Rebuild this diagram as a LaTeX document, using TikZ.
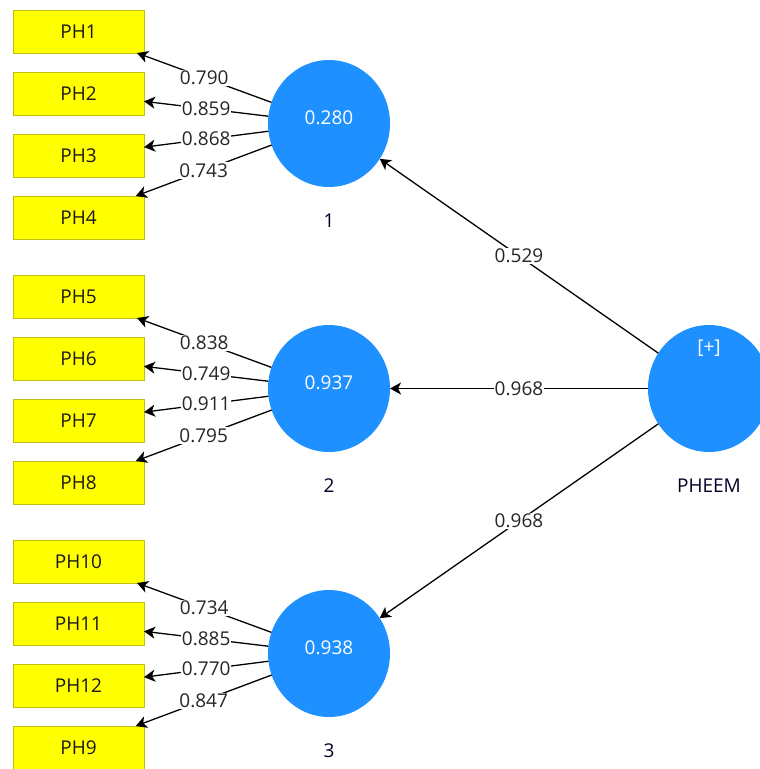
\documentclass[tikz,border=0pt]{standalone}
\usepackage{fontspec}
\setmainfont{Open Sans}
\usetikzlibrary{arrows.meta,positioning,shapes.geometric}

\definecolor{latentblue}{RGB}{30,144,255}
\definecolor{itemyellow}{RGB}{255,255,0}
\definecolor{itemborder}{RGB}{190,190,20}

\begin{document}
\begin{tikzpicture}[x=1pt,y=-1pt,->,>={Stealth[length=11pt,width=12pt,inset=3pt]},
      line width=1.3pt,node distance=19pt,
      font=\fontsize{19}{22}\selectfont]
    \tikzstyle{item}=[rectangle,fill=itemyellow,draw=itemborder,line width=0.8pt,
      minimum width=131pt,minimum height=43pt,inner sep=0pt,outer sep=0pt,text=black!90]
    \tikzstyle{latent}=[ellipse,fill=latentblue,draw=none,minimum width=122pt,
      minimum height=127pt,inner sep=0pt,outer sep=0pt,text=white,text depth=12pt]
    \tikzstyle{load}=[fill=white,inner sep=1pt,text=black!85]
    \tikzstyle{tag}=[inner sep=0pt,text=black!85!blue]

    \useasboundingbox (0,0) rectangle (760,769);
    \clip (0,0) rectangle (760,769);

    % indicators
    \node[item] (ph1) at (78.5,31.5) {PH1};
    \node[item] (ph2) [below=of ph1] {PH2};
    \node[item] (ph3) [below=of ph2] {PH3};
    \node[item] (ph4) [below=of ph3] {PH4};

    \node[item] (ph5) at (78.5,296.5) {PH5};
    \node[item] (ph6) [below=of ph5] {PH6};
    \node[item] (ph7) [below=of ph6] {PH7};
    \node[item] (ph8) [below=of ph7] {PH8};

    \node[item] (ph10) at (78.5,561.5) {PH10};
    \node[item] (ph11) [below=of ph10] {PH11};
    \node[item] (ph12) [below=of ph11] {PH12};
    \node[item] (ph9)  [below=of ph12] {PH9};

    % constructs
    \node[latent] (c1) at (329,123.5) {0.280};
    \node[latent] (c2) at (329,388.5) {0.937};
    \node[latent] (c3) at (329,653.5) {0.938};
    \node[latent] (pheem) at (709,388.5) {};

    \node[tag] (n1) [below=26pt of c1] {1};
    \node[tag] (n2) [below=26pt of c2] {2};
    \node[tag] (n3) [below=26pt of c3] {3};
    \node[tag] (npheem) [below=26pt of pheem] {PHEEM};
    \node[inner sep=0pt,text=white] (plus) at (709,348) {[+]};

    % outer loadings
    \path (c1) edge node[load] {0.790} (ph1)
               edge node[load] {0.859} (ph2)
               edge node[load] {0.868} (ph3)
               edge node[load] {0.743} (ph4)
          (c2) edge node[load] {0.838} (ph5)
               edge node[load] {0.749} (ph6)
               edge node[load] {0.911} (ph7)
               edge node[load] {0.795} (ph8)
          (c3) edge node[load] {0.734} (ph10)
               edge node[load] {0.885} (ph11)
               edge node[load] {0.770} (ph12)
               edge node[load] {0.847} (ph9);

    % paths from PHEEM
    \path (pheem) edge node[load] {0.529} (c1)
                  edge node[load] {0.968} (c2)
                  edge node[load] {0.968} (c3);
  \end{tikzpicture}
\end{document}
